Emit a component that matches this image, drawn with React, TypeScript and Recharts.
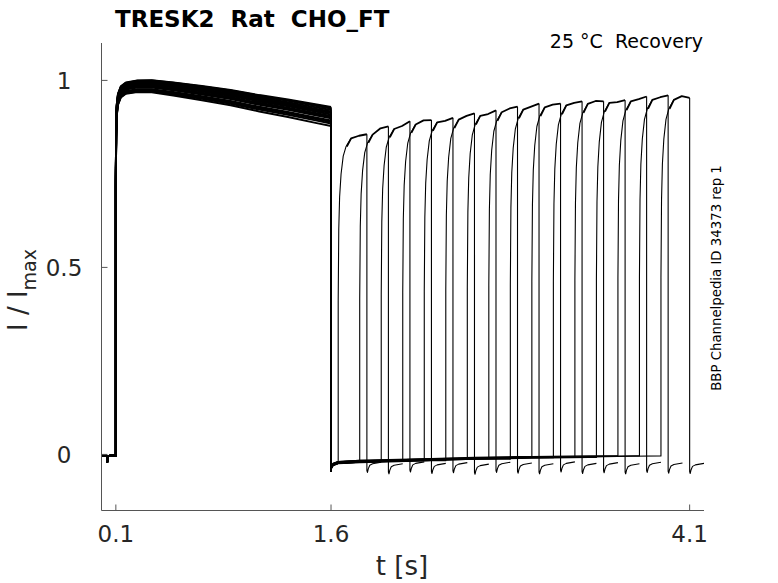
import React from 'react';
import { LineChart, Line, XAxis, YAxis } from 'recharts';

// ---- layout constants (styling only) ----
const W = 778;
const H = 583;
const PLOT_LEFT = 101.5;
const PLOT_RIGHT = 704;
const PLOT_TOP = 43;
const PLOT_BOTTOM = 510.5;
const FONT = 'DejaVu Sans, sans-serif';

// ---- axes ----
const xDomain = [0, 4.2];
const yDomain = [-0.15, 1.1];
const xTicks = [0.1, 1.6, 4.1];
const yTicks = [0, 0.5, 1];

// ---- values ----
// holding current before the first pulse (t, I/Imax)
const preBaseline: [number, number][] = [
  [0, -0.004], [0.03, -0.003], [0.038, -0.004], [0.04, -0.02], [0.043, -0.005],
  [0.07, -0.003], [0.1, -0.003],
];
// first (conditioning) pulse, typical trace (t, I/Imax)
const firstPulse: [number, number][] = [
  [0.1, 0.72], [0.102, 0.86], [0.106, 0.92], [0.115, 0.95], [0.135, 0.97],
  [0.17, 0.98], [0.25, 0.985], [0.35, 0.985], [0.5, 0.978], [0.7, 0.967],
  [0.9, 0.955], [1.1, 0.94], [1.3, 0.927], [1.5, 0.912], [1.6, 0.905],
];
// per-sweep offset of the first pulse at its start and at its end
const firstStartShift = [0.012, -0.004, 0.008, -0.012, 0.003, 0.014, -0.008, 0.0, 0.01, -0.014, 0.005, -0.002, 0.013, -0.01, 0.006, -0.015];
const firstEndShift = [0.02, -0.006, 0.012, -0.016, 0.004, 0.024, -0.012, 0.0, 0.016, -0.02, 0.008, -0.003, 0.022, -0.014, 0.01, -0.027];
// current between the two pulses (t, I/Imax)
const gapBaseline: [number, number][] = [
  [1.6, -0.045], [1.604, -0.034], [1.615, -0.027], [1.65, -0.022], [1.8, -0.019],
  [2.0, -0.017], [2.3, -0.014], [2.6, -0.011], [3.0, -0.008], [3.4, -0.006],
  [3.7, -0.004], [3.9, -0.003],
];
const gapShift = [0.002, -0.002, 0.003, -0.001, 0.001, -0.003, 0.002, 0.0, -0.002, 0.003, -0.001, 0.001, -0.002, 0.002, 0.0, -0.001];
// second (test) pulse onset and offset per sweep, seconds
const testOnsets = [1.65, 1.80, 1.95, 2.10, 2.25, 2.40, 2.55, 2.70, 2.85, 3.00, 3.15, 3.30, 3.45, 3.60, 3.75, 3.90];
const testOffsets = [1.85, 2.00, 2.15, 2.30, 2.45, 2.60, 2.75, 2.90, 3.05, 3.20, 3.35, 3.50, 3.65, 3.80, 3.95, 4.10];
// plateau level of the test pulse, just after onset, midway and at offset
const plateauStart = [0.845, 0.855, 0.87, 0.882, 0.888, 0.895, 0.905, 0.915, 0.922, 0.928, 0.933, 0.937, 0.94, 0.944, 0.948, 0.948];
const plateauMid = [0.852, 0.872, 0.878, 0.893, 0.892, 0.905, 0.91, 0.925, 0.93, 0.935, 0.94, 0.945, 0.942, 0.95, 0.955, 0.958];
const plateauEnd = [0.856, 0.877, 0.891, 0.894, 0.9, 0.912, 0.92, 0.93, 0.938, 0.938, 0.944, 0.944, 0.947, 0.957, 0.96, 0.953];
// activation shape of the test pulse: (seconds after onset, fraction of plateau)
const riseShape: [number, number][] = [
  [0, 0.5], [0.004, 0.72], [0.01, 0.82], [0.02, 0.89], [0.035, 0.945], [0.055, 0.975], [0.09, 1.0],
];
// tail after the test pulse: (seconds after offset, I/Imax)
const tailShape: [number, number][] = [
  [0, -0.045], [0.004, -0.05], [0.01, -0.04], [0.02, -0.031], [0.04, -0.027], [0.1, -0.023],
];

type Pt = { t: number; v: number };

// each sweep is split into segments so each part can carry its own stroke weight
function buildSweep(k: number) {
  const first: Pt[] = [];
  preBaseline.forEach(([t, v]) => first.push({ t, v }));
  const s0 = firstStartShift[k];
  const s1 = firstEndShift[k];
  firstPulse.forEach(([t, v]) => {
    const f = (t - 0.1) / 1.5;
    first.push({ t, v: v + s0 + (s1 - s0) * f });
  });

  const on = testOnsets[k];
  const off = testOffsets[k];
  const gap: Pt[] = [first[first.length - 1]];
  let base = gapBaseline[0][1];
  gapBaseline.forEach(([t, v]) => {
    if (t <= on) {
      const vv = t === 1.6 ? v : v + gapShift[k];
      gap.push({ t, v: vv });
      base = vv;
    }
  });
  gap.push({ t: on, v: base });
  const p0 = plateauStart[k];
  riseShape.forEach(([dt, f]) => gap.push({ t: on + dt, v: base + f * (p0 - base) }));

  const plateau: Pt[] = [
    { t: on + 0.06, v: base + 0.975 * (p0 - base) },
    { t: on + 0.09, v: p0 },
    { t: (on + 0.09 + off) / 2, v: plateauMid[k] },
    { t: off, v: plateauEnd[k] },
  ];

  const tail: Pt[] = [{ t: off, v: plateauEnd[k] }];
  tailShape.forEach(([dt, v]) => tail.push({ t: off + dt, v: v + gapShift[k] }));
  return { first, gap, plateau, tail };
}

const sweeps = testOnsets.map((_, k) => buildSweep(k));

const XTick = (props: any) => {
  const { x, payload } = props;
  return (
    <g>
      <line x1={x} x2={x} y1={PLOT_BOTTOM} y2={PLOT_BOTTOM - 6} stroke="#555" strokeWidth={1} />
      <text x={x} y={542} textAnchor="middle" fontSize={23} fill="#262626" fontFamily={FONT}>
        {String(payload.value)}
      </text>
    </g>
  );
};

const YTick = (props: any) => {
  const { y, payload } = props;
  return (
    <g>
      <line x1={PLOT_LEFT} x2={PLOT_LEFT + 6} y1={y} y2={y} stroke="#555" strokeWidth={1} />
      <text x={64} y={y + 8.5} textAnchor="middle" fontSize={23} fill="#262626" fontFamily={FONT}>
        {String(payload.value)}
      </text>
    </g>
  );
};

const segStyles: { key: 'first' | 'gap' | 'plateau' | 'tail'; width: number }[] = [
  { key: 'first', width: 2 },
  { key: 'gap', width: 1.1 },
  { key: 'plateau', width: 1.8 },
  { key: 'tail', width: 1.1 },
];

export default function App() {
  return (
    <div style={{ position: 'relative', width: W, height: H, background: '#fff' }}>
      <style>{`body{margin:0;background:#fff}`}</style>
      <LineChart
        width={W}
        height={H}
        margin={{ top: PLOT_TOP, right: W - PLOT_RIGHT, bottom: H - PLOT_BOTTOM - 30, left: PLOT_LEFT - 60 }}
      >
        <XAxis
          dataKey="t"
          type="number"
          domain={xDomain}
          ticks={xTicks}
          allowDataOverflow
          height={30}
          axisLine={{ stroke: '#555', strokeWidth: 1 }}
          tickLine={false}
          tick={<XTick />}
          interval={0}
        />
        <YAxis
          type="number"
          domain={yDomain}
          ticks={yTicks}
          allowDataOverflow
          width={60}
          axisLine={{ stroke: '#555', strokeWidth: 1 }}
          tickLine={false}
          tick={<YTick />}
          interval={0}
        />
        {sweeps.map((s, k) =>
          segStyles.map((seg) => (
            <Line
              key={`${k}-${seg.key}`}
              data={s[seg.key]}
              dataKey="v"
              type="linear"
              stroke="#000"
              strokeWidth={seg.width}
              strokeLinejoin="round"
              dot={false}
              activeDot={false}
              isAnimationActive={false}
            />
          ))
        )}
        <text x={115} y={27} fontSize={23} fontWeight="bold" fontFamily={FONT} fill="#000" style={{ whiteSpace: 'pre' }}>
          {'TRESK2  Rat  CHO_FT'}
        </text>
        <text x={703} y={48} fontSize={19} textAnchor="end" fontFamily={FONT} fill="#000" style={{ whiteSpace: 'pre' }}>
          {'25 °C  Recovery'}
        </text>
        <text
          transform="translate(721, 278) rotate(-90)"
          x={0}
          y={0}
          fontSize={13.3}
          textAnchor="middle"
          fontFamily={FONT}
          fill="#000"
        >
          BBP Channelpedia ID 34373 rep 1
        </text>
        <text x={402} y={575} fontSize={26} textAnchor="middle" fontFamily={FONT} fill="#262626">
          t [s]
        </text>
        <text
          transform="translate(27, 290) rotate(-90)"
          x={0}
          y={0}
          fontSize={26}
          textAnchor="middle"
          fontFamily={FONT}
          fill="#262626"
          style={{ whiteSpace: 'pre' }}
        >
          {'I / I'}
          <tspan fontSize={19} dy={9}>max</tspan>
        </text>
      </LineChart>
    </div>
  );
}
